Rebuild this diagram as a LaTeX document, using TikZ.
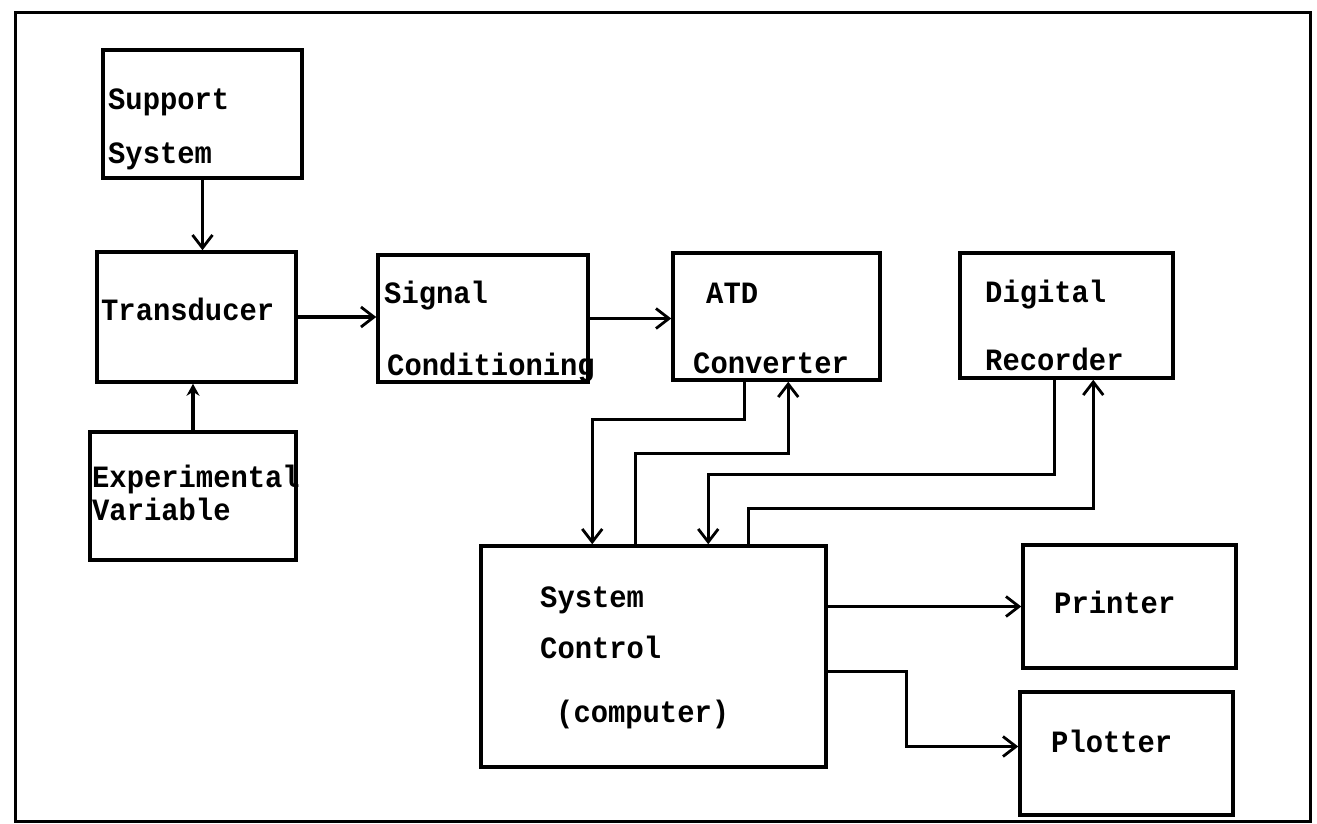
\documentclass[tikz,border=0pt]{standalone}
\usepackage{fontspec}
\newfontfamily\tw[FakeStretch=0.93]{Liberation Mono}
\usetikzlibrary{calc,arrows.meta}
\begin{document}
\begin{tikzpicture}[x=1pt,y=-1pt,
  box/.style={draw,line width=3.5pt,inner sep=0pt,rectangle},
  lbl/.style={anchor=base west,inner sep=0pt,font=\tw\bfseries\fontsize{31}{36}\selectfont},
  arr/.style={line width=3.3pt,-{Straight Barb[length=13pt,width=20pt,line width=2.8pt]}},
  arrf/.style={line width=3.5pt,-{Stealth[length=12pt,width=13pt]}}]
\useasboundingbox (0,0) rectangle (1317,823);
\draw[line width=3pt] (15,12) rectangle (1310,821);
% boxes
\node[box,minimum width=199pt,minimum height=128pt] (sup) at (202.5,114) {};
\node[box,minimum width=199pt,minimum height=130pt] (trans) at (196.5,317) {};
\node[box,minimum width=206pt,minimum height=128pt] (exp) at (193,496) {};
\node[box,minimum width=210pt,minimum height=127pt] (sig) at (483,318.5) {};
\node[box,minimum width=207pt,minimum height=127pt] (atd) at (776.5,316.5) {};
\node[box,minimum width=213pt,minimum height=125pt] (rec) at (1066.5,315.5) {};
\node[box,minimum width=345pt,minimum height=221pt] (sc) at (653.5,656.5) {};
\node[box,minimum width=213pt,minimum height=123pt] (prn) at (1129.5,606.5) {};
\node[box,minimum width=213pt,minimum height=123pt] (plt) at (1126.5,753.5) {};
% labels
\node[lbl] (t1) at (108,109) {Support};
\node[lbl] (t2) at (108,163) {System};
\node[lbl] (t3) at (101,320) {Transducer};
\node[lbl] (t4) at (92,487) {Experimental};
\node[lbl] (t5) at (92,520) {Variable};
\node[lbl] (t6) at (384,303) {Signal};
\node[lbl] (t7) at (387,375) {Conditioning};
\node[lbl] (t8) at (706,303) {ATD};
\node[lbl] (t9) at (693,373) {Converter};
\node[lbl] (t10) at (985,302) {Digital};
\node[lbl] (t11) at (985,370) {Recorder};
\node[lbl] (t12) at (540,607) {System};
\node[lbl] (t13) at (540,658) {Control};
\node[lbl] (t14) at (556,722) {(computer)};
\node[lbl] (t15) at (1054,613) {Printer};
\node[lbl] (t16) at (1051,752) {Plotter};
% connectors
\draw[arr] (sup.south) -- (sup.south |- trans.north);
\draw[arrf] (exp.north) -- (exp.north |- trans.south);
\draw[arr] (trans.east) -- (trans.east -| sig.west);
\draw[arr] (sig.east) -- (sig.east -| atd.west);
\draw[arr] ($(atd.south west)+(73,0)$) -- ++(0,38) -| ($(sc.north west)+(113,0)$);
\draw[arr] ($(sc.north west)+(156,0)$) -- ++(0,-91) -| ($(atd.south west)+(117,0)$);
\draw[arr] ($(rec.south west)+(96,0)$) -- ++(0,95) -| ($(sc.north west)+(229,0)$);
\draw[arr] ($(sc.north west)+(269,0)$) -- ++(0,-36) -| ($(rec.south west)+(135,0)$);
\draw[arr] (prn.west -| sc.east) -- (prn.west);
\draw[arr] ($(sc.north east)+(0,127)$) -- ++(79,0) |- ($(plt.west)+(0,-7)$);
\end{tikzpicture}
\end{document}
